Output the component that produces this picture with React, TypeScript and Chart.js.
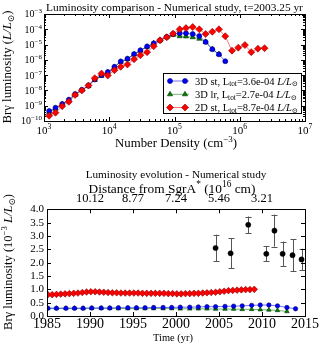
import React, { useEffect, useRef } from 'react';
import { Chart, registerables } from 'chart.js';
Chart.register(...registerables);

const SERIF = '"Liberation Serif", "DejaVu Serif", serif';
Chart.defaults.font.family = SERIF;
Chart.defaults.color = '#000';

const W = 325;
const H = 348;

// ---------------- Top chart data (luminosity vs number density) ----------------
const densities = [
  1.2e3, 1.5e3, 1.9e3, 2.4e3, 3.0e3, 3.8e3, 4.8e3, 6.0e3, 7.6e3, 9.5e3,
  1.2e4, 1.5e4, 1.9e4, 2.4e4, 3.0e4, 3.8e4, 4.8e4, 6.0e4, 7.6e4, 9.5e4,
  1.2e5, 1.5e5, 1.9e5, 2.4e5, 3.0e5, 3.8e5, 4.8e5, 6.0e5, 7.6e5, 9.5e5,
  1.2e6, 1.5e6, 1.9e6, 2.4e6,
];
const lum3dSt = [
  4.5e-10, 7.4e-10, 1.3e-9, 2.5e-9, 5.8e-9, 1.1e-8, 2.1e-8, 5.2e-8, 1.0e-7, 1.6e-7,
  3.5e-7, 7.9e-7, 1.2e-6, 2.4e-6, 4.2e-6, 7.6e-6, 1.2e-5, 1.9e-5, 3.2e-5, 4.9e-5,
  5.5e-5, 5.5e-5, 4.9e-5, 3.6e-5, 1.5e-5, 4.9e-6, 2.3e-6, 8.1e-7,
];
const lum3dLr = [
  3.8e-10, 6.3e-10, 1.2e-9, 2.3e-9, 5.0e-9, 1.05e-8, 1.9e-8, 4.8e-8, 8.9e-8, 1.5e-7,
  3.4e-7, 7.4e-7, 1.1e-6, 2.2e-6, 4.0e-6, 7.2e-6, 1.2e-5, 1.9e-5, 3.0e-5, 4.3e-5,
  3.5e-5, 3.4e-5, 3.0e-5, 2.4e-5, 1.5e-5, 5.1e-6, 2.3e-6,
];
const lum2dSt = [
  2.2e-10, 3.5e-10, 9.3e-10, 1.8e-9, 5.1e-9, 1.0e-8, 2.1e-8, 6.3e-8, 1.26e-7, 9.5e-8,
  2.1e-7, 3.5e-7, 5.0e-7, 1.1e-6, 2.0e-6, 3.2e-6, 7.8e-6, 1.9e-5, 3.0e-5, 5.2e-5,
  1.0e-4, 1.2e-4, 1.4e-4, 1.0e-4, 4.9e-5, 6.9e-5, 1.0e-4, 3.5e-5, 4.0e-6, 6.3e-6,
  9.3e-6, 3.2e-6, 5.4e-6, 5.8e-6,
];
const seriesNames = ['3D st', '3D lr', '2D st'];
const seriesTotals = ['3.6e-04', '2.7e-04', '8.7e-04'];
const densityDecades = [3, 4, 5, 6, 7];
const lumDecades = [-10, -9, -8, -7, -6, -5, -4, -3];

// ---------------- Bottom chart data (luminosity evolution) ----------------
const years2d = [
  1985.1, 1985.6, 1986.1, 1986.6, 1987.1, 1987.6, 1988.1, 1988.6, 1989.1, 1989.6,
  1990.1, 1990.6, 1991.1, 1991.6, 1992.1, 1992.6, 1993.1, 1993.6, 1994.1, 1994.6,
  1995.1, 1995.6, 1996.1, 1996.6, 1997.1, 1997.6, 1998.1, 1998.6, 1999.1, 1999.6,
  2000.1, 2000.6, 2001.1, 2001.6, 2002.1, 2002.6, 2003.1, 2003.6, 2004.1, 2004.6,
  2005.1, 2005.6, 2006.1, 2006.6, 2007.1, 2007.6, 2008.1, 2008.6, 2009.1,
];
const evo2dSt = [
  0.80, 0.80, 0.81, 0.82, 0.83, 0.84, 0.85, 0.86, 0.88, 0.90,
  0.91, 0.91, 0.90, 0.89, 0.88, 0.87, 0.87, 0.86, 0.86, 0.86,
  0.86, 0.86, 0.85, 0.85, 0.85, 0.85, 0.85, 0.85, 0.84, 0.84,
  0.83, 0.83, 0.84, 0.84, 0.85, 0.85, 0.86, 0.87, 0.88, 0.89,
  0.91, 0.93, 0.95, 0.96, 0.97, 0.98, 0.99, 0.99, 1.00,
];
const years3d = [
  1985.1, 1986.1, 1987.2, 1988.2, 1989.2, 1990.2, 1991.3, 1992.3, 1993.3, 1994.4,
  1995.4, 1996.4, 1997.4, 1998.5, 1999.5, 2000.5, 2001.6, 2002.6, 2003.6, 2004.6,
  2005.7, 2006.7, 2007.7, 2008.8, 2009.8, 2010.8, 2011.8, 2012.9, 2013.9,
];
const evo3dSt = [
  0.29, 0.29, 0.29, 0.29, 0.29, 0.30, 0.30, 0.30, 0.31, 0.31,
  0.31, 0.31, 0.32, 0.32, 0.32, 0.33, 0.33, 0.34, 0.35, 0.35,
  0.36, 0.37, 0.38, 0.40, 0.41, 0.41, 0.38, 0.32, 0.27,
];
const evo3dLr = [
  0.29, 0.29, 0.29, 0.29, 0.29, 0.29, 0.29, 0.29, 0.28, 0.28,
  0.28, 0.28, 0.28, 0.28, 0.28, 0.27, 0.27, 0.27, 0.27, 0.26,
  0.26, 0.26, 0.25, 0.25, 0.24, 0.23, 0.21, 0.17,
];
const obsYears = [2004.6, 2006.35, 2008.4, 2010.5, 2011.45, 2012.4, 2013.55, 2014.6];
const obsLum = [2.55, 2.35, 3.42, 2.33, 3.2, 2.33, 2.28, 2.12];
const obsErr = [0.5, 0.56, 0.31, 0.28, 0.6, 0.46, 0.6, 0.4];
const timeTicks = [1985, 1990, 1995, 2000, 2005, 2010, 2015];
const distYears = [1990, 1995, 2000, 2005, 2010];
const distLabels = ['10.12', '8.77', '7.24', '5.46', '3.21'];
const evoTicks = [0, 0.5, 1.0, 1.5, 2.0, 2.5, 3.0, 3.5, 4.0];

// ---------------- styles ----------------
const BLUE = '#0000ff', BLUE_LINE = 'rgba(0,0,255,0.55)', BLUE_EDGE = '#000066';
const GREEN = '#007f00', GREEN_LINE = 'rgba(0,128,0,0.55)', GREEN_EDGE = '#003300';
const RED = '#ff0000', RED_LINE = 'rgba(255,0,0,0.55)', RED_EDGE = '#880000';

// ---------------- rich text helpers ----------------
type Seg = { t: string; it?: boolean; sup?: boolean; sub?: boolean };
function segFont(size: number, s: Seg) {
  const sz = s.sup || s.sub ? size * 0.7 : size;
  return `${s.it ? 'italic ' : ''}${sz}px ${SERIF}`;
}
function richWidth(ctx: CanvasRenderingContext2D, segs: Seg[], size: number) {
  let w = 0;
  for (const s of segs) {
    ctx.font = segFont(size, s);
    w += ctx.measureText(s.t).width;
  }
  return w;
}
function fitSize(ctx: CanvasRenderingContext2D, segs: Seg[], target: number, base = 10) {
  return (base * target) / richWidth(ctx, segs, base);
}
function drawRich(
  ctx: CanvasRenderingContext2D, segs: Seg[], x: number, y: number, size: number,
  align: 'left' | 'center' | 'right' = 'center', rot = 0,
) {
  const w = richWidth(ctx, segs, size);
  ctx.save();
  ctx.translate(x, y);
  ctx.rotate(rot);
  let cx = align === 'center' ? -w / 2 : align === 'right' ? -w : 0;
  ctx.textBaseline = 'alphabetic';
  ctx.textAlign = 'left';
  ctx.fillStyle = '#000';
  const base = size * 0.34;
  for (const s of segs) {
    ctx.font = segFont(size, s);
    const dy = s.sup ? base - size * 0.4 : s.sub ? base + size * 0.18 : base;
    ctx.fillText(s.t, cx, dy);
    cx += ctx.measureText(s.t).width;
  }
  ctx.restore();
}
function seg(ctx: CanvasRenderingContext2D, x1: number, y1: number, x2: number, y2: number) {
  ctx.beginPath();
  ctx.moveTo(x1, y1);
  ctx.lineTo(x2, y2);
  ctx.stroke();
}
function drawFrame(ctx: CanvasRenderingContext2D, a: any) {
  ctx.strokeStyle = '#000';
  ctx.lineWidth = 1;
  const l = Math.round(a.left), t = Math.round(a.top), r = Math.round(a.right), b = Math.round(a.bottom);
  ctx.strokeRect(l + 0.5, t + 0.5, r - l, b - t);
}
function drawMarker(ctx: CanvasRenderingContext2D, style: string, x: number, y: number, r: number, fill: string, edge: string) {
  ctx.beginPath();
  if (style === 'circle') ctx.arc(x, y, r, 0, Math.PI * 2);
  else if (style === 'triangle') {
    ctx.moveTo(x, y - r);
    ctx.lineTo(x + r * 0.866, y + r * 0.5);
    ctx.lineTo(x - r * 0.866, y + r * 0.5);
    ctx.closePath();
  } else {
    ctx.moveTo(x, y - r);
    ctx.lineTo(x + r, y);
    ctx.lineTo(x, y + r);
    ctx.lineTo(x - r, y);
    ctx.closePath();
  }
  ctx.fillStyle = fill;
  ctx.fill();
  ctx.strokeStyle = edge;
  ctx.lineWidth = 0.6;
  ctx.stroke();
}

const pts = (xs: number[], ys: number[]) => ys.map((y, i) => ({ x: xs[i], y }));
const sup = (n: number) => (n < 0 ? '−' + Math.abs(n) : String(n));

// ---------------- top chart ----------------
const legendStyles = [
  { line: BLUE_LINE, fill: BLUE, edge: BLUE_EDGE, style: 'circle', r: 2.5 },
  { line: GREEN_LINE, fill: GREEN, edge: GREEN_EDGE, style: 'triangle', r: 3 },
  { line: RED_LINE, fill: RED, edge: RED_EDGE, style: 'diamond', r: 3.5 },
];

const topDecor = {
  id: 'topDecor',
  afterDraw(chart: any) {
    const ctx: CanvasRenderingContext2D = chart.ctx;
    const a = chart.chartArea;
    const xs = chart.scales.x;
    const ys = chart.scales.y;
    ctx.save();
    drawFrame(ctx, a);
    ctx.lineWidth = 1;
    ctx.strokeStyle = '#000';
    for (const e of densityDecades) {
      for (let k = 1; k <= 9; k++) {
        const v = k * Math.pow(10, e);
        if (v > xs.max * 1.0001) continue;
        const px = Math.round(xs.getPixelForValue(v)) + 0.5;
        const len = k === 1 ? 4 : 2;
        seg(ctx, px, a.bottom, px, a.bottom - len);
        seg(ctx, px, a.top, px, a.top + len);
      }
    }
    for (const e of lumDecades) {
      for (let k = 1; k <= 9; k++) {
        const v = k * Math.pow(10, e);
        if (v > ys.max * 1.0001) continue;
        const py = Math.round(ys.getPixelForValue(v)) + 0.5;
        const len = k === 1 ? 4 : 2;
        seg(ctx, a.left, py, a.left + len, py);
        seg(ctx, a.right, py, a.right - len, py);
      }
    }
    // tick labels
    for (const e of densityDecades) {
      const px = xs.getPixelForValue(Math.pow(10, e));
      drawRich(ctx, [{ t: '10' }, { t: sup(e), sup: true }], px, a.bottom + 9, 11, 'center');
    }
    for (const e of lumDecades) {
      const py = ys.getPixelForValue(Math.pow(10, e));
      drawRich(ctx, [{ t: '10' }, { t: sup(e), sup: true }], a.left - 2, py, 10, 'right');
    }
    // title
    const title: Seg[] = [{ t: 'Luminosity comparison - Numerical study, t=2003.25 yr' }];
    drawRich(ctx, title, (a.left + a.right) / 2, 7, fitSize(ctx, title, 257), 'center');
    // axis titles
    const xt: Seg[] = [{ t: 'Number Density (cm' }, { t: '−3', sup: true }, { t: ')' }];
    drawRich(ctx, xt, 176, 143, fitSize(ctx, xt, 122), 'center');
    const yt: Seg[] = [{ t: 'Brγ luminosity (' }, { t: 'L/L', it: true }, { t: '⊙', sub: true }, { t: ')' }];
    drawRich(ctx, yt, 7, 67, fitSize(ctx, yt, 113), 'center', -Math.PI / 2);
    // legend
    const bx0 = 163, by0 = 73, bx1 = 301, by1 = 113;
    ctx.fillStyle = '#fff';
    ctx.fillRect(bx0, by0, bx1 - bx0, by1 - by0);
    ctx.strokeStyle = '#000';
    ctx.lineWidth = 1;
    ctx.strokeRect(bx0 + 0.5, by0 + 0.5, bx1 - bx0, by1 - by0);
    const entries: Seg[][] = seriesNames.map((n, i) => [
      { t: n + ', L' }, { t: 'tot', sub: true }, { t: '=' + seriesTotals[i] + ' ' },
      { t: 'L/L', it: true }, { t: '⊙', sub: true },
    ]);
    const lsize = fitSize(ctx, entries[0], 103);
    const rows = [81, 94.3, 107.5];
    entries.forEach((segs, i) => {
      const st = legendStyles[i];
      const yy = rows[i];
      ctx.strokeStyle = st.line;
      ctx.lineWidth = 1;
      seg(ctx, 168, yy, 189, yy);
      drawMarker(ctx, st.style, 170, yy, st.r, st.fill, st.edge);
      drawMarker(ctx, st.style, 185, yy, st.r, st.fill, st.edge);
      drawRich(ctx, segs, 195, yy, lsize, 'left');
    });
    ctx.restore();
  },
};

function topConfig(): any {
  return {
    type: 'line',
    data: {
      datasets: [
        {
          label: seriesNames[2], data: pts(densities, lum2dSt), order: 0,
          borderColor: RED_LINE, backgroundColor: RED, pointBackgroundColor: RED, pointBorderColor: RED_EDGE,
          pointStyle: 'rectRot', pointRadius: 3.5, pointBorderWidth: 0.6, borderWidth: 1,
        },
        {
          label: seriesNames[0], data: pts(densities, lum3dSt), order: 1,
          borderColor: BLUE_LINE, backgroundColor: BLUE, pointBackgroundColor: BLUE, pointBorderColor: BLUE_EDGE,
          pointStyle: 'circle', pointRadius: 2.5, pointBorderWidth: 0.6, borderWidth: 1,
        },
        {
          label: seriesNames[1], data: pts(densities, lum3dLr), order: 2,
          borderColor: GREEN_LINE, backgroundColor: GREEN, pointBackgroundColor: GREEN, pointBorderColor: GREEN_EDGE,
          pointStyle: 'triangle', pointRadius: 3, pointBorderWidth: 0.6, borderWidth: 1,
        },
      ],
    },
    options: {
      animation: false,
      responsive: false,
      events: [],
      layout: { padding: { top: 14, right: 20, bottom: 198, left: 0 } },
      elements: { line: { tension: 0 } },
      plugins: { legend: { display: false }, tooltip: { enabled: false }, title: { display: false } },
      scales: {
        x: {
          type: 'logarithmic', position: 'bottom', min: 1e3, max: 1e7,
          ticks: { display: false }, grid: { display: false, drawTicks: false }, border: { display: false },
          afterFit: (s: any) => { s.height = 29; },
        },
        y: {
          type: 'logarithmic', position: 'left', min: 1e-10, max: 1e-3,
          ticks: { display: false }, grid: { display: false, drawTicks: false }, border: { display: false },
          afterFit: (s: any) => { s.width = 44; },
        },
      },
    },
    plugins: [topDecor],
  };
}

// ---------------- bottom chart ----------------
const bottomDecor = {
  id: 'bottomDecor',
  beforeDatasetsDraw(chart: any) {
    const ctx: CanvasRenderingContext2D = chart.ctx;
    const xs = chart.scales.x;
    const ys = chart.scales.y;
    ctx.save();
    ctx.strokeStyle = '#555';
    ctx.lineWidth = 1;
    obsYears.forEach((yr, i) => {
      const px = Math.round(xs.getPixelForValue(yr)) + 0.5;
      const hi = ys.getPixelForValue(obsLum[i] + obsErr[i]);
      const lo = ys.getPixelForValue(obsLum[i] - obsErr[i]);
      seg(ctx, px, hi, px, lo);
      seg(ctx, px - 3, Math.round(hi) + 0.5, px + 3, Math.round(hi) + 0.5);
      seg(ctx, px - 3, Math.round(lo) + 0.5, px + 3, Math.round(lo) + 0.5);
    });
    ctx.restore();
  },
  afterDraw(chart: any) {
    const ctx: CanvasRenderingContext2D = chart.ctx;
    const a = chart.chartArea;
    const xs = chart.scales.x;
    const x2 = chart.scales.x2;
    const ys = chart.scales.y;
    ctx.save();
    drawFrame(ctx, a);
    ctx.strokeStyle = '#000';
    ctx.lineWidth = 1;
    for (const t of timeTicks) {
      const px = Math.round(xs.getPixelForValue(t)) + 0.5;
      seg(ctx, px, a.bottom, px, a.bottom - 4);
    }
    for (const t of distYears) {
      const px = Math.round(x2.getPixelForValue(t)) + 0.5;
      seg(ctx, px, a.top, px, a.top + 4);
    }
    for (const t of evoTicks) {
      const py = Math.round(ys.getPixelForValue(t)) + 0.5;
      seg(ctx, a.left, py, a.left + 4, py);
      seg(ctx, a.right, py, a.right - 4, py);
    }
    const t1: Seg[] = [{ t: 'Luminosity evolution - Numerical study' }];
    drawRich(ctx, t1, 176, 174, fitSize(ctx, t1, 181), 'center');
    const t2: Seg[] = [{ t: 'Distance from SgrA' }, { t: '*', sup: true }, { t: ' (10' }, { t: '16', sup: true }, { t: ' cm)' }];
    drawRich(ctx, t2, 172, 188, fitSize(ctx, t2, 167), 'center');
    const xt: Seg[] = [{ t: 'Time (yr)' }];
    drawRich(ctx, xt, 173, 337, fitSize(ctx, xt, 40), 'center');
    const yt: Seg[] = [
      { t: 'Brγ luminosity (10' }, { t: '−3', sup: true }, { t: ' ' },
      { t: 'L/L', it: true }, { t: '⊙', sub: true }, { t: ')' },
    ];
    drawRich(ctx, yt, 8, 262, fitSize(ctx, yt, 136), 'center', -Math.PI / 2);
    ctx.restore();
  },
};

function bottomConfig(): any {
  return {
    type: 'line',
    data: {
      datasets: [
        {
          label: 'obs', data: pts(obsYears, obsLum), order: 0, showLine: false,
          borderColor: '#000', backgroundColor: '#000', pointBackgroundColor: '#000', pointBorderColor: '#000',
          pointStyle: 'circle', pointRadius: 2.6, pointBorderWidth: 0.5,
        },
        {
          label: seriesNames[2], data: pts(years2d, evo2dSt), order: 1,
          borderColor: RED_LINE, backgroundColor: RED, pointBackgroundColor: RED, pointBorderColor: RED_EDGE,
          pointStyle: 'rectRot', pointRadius: 3.3, pointBorderWidth: 0.6, borderWidth: 1,
        },
        {
          label: seriesNames[0], data: pts(years3d, evo3dSt), order: 2,
          borderColor: BLUE_LINE, backgroundColor: BLUE, pointBackgroundColor: BLUE, pointBorderColor: BLUE_EDGE,
          pointStyle: 'circle', pointRadius: 2.2, pointBorderWidth: 0.6, borderWidth: 1,
        },
        {
          label: seriesNames[1], data: pts(years3d, evo3dLr), order: 3,
          borderColor: GREEN_LINE, backgroundColor: GREEN, pointBackgroundColor: GREEN, pointBorderColor: GREEN_EDGE,
          pointStyle: 'triangle', pointRadius: 2.6, pointBorderWidth: 0.6, borderWidth: 1,
        },
      ],
    },
    options: {
      animation: false,
      responsive: false,
      events: [],
      layout: { padding: { top: 0, right: 20, bottom: 0, left: 0 } },
      elements: { line: { tension: 0 } },
      plugins: { legend: { display: false }, tooltip: { enabled: false }, title: { display: false } },
      scales: {
        x: {
          type: 'linear', position: 'bottom', min: 1985, max: 2015,
          afterBuildTicks: (s: any) => { s.ticks = timeTicks.map((v) => ({ value: v })); },
          ticks: { font: { size: 14, family: SERIF }, color: '#000', padding: 0, autoSkip: false, maxRotation: 0, callback: (v: any) => String(v) },
          grid: { display: false, drawTicks: false }, border: { display: false },
          afterFit: (s: any) => { s.height = 32; },
        },
        x2: {
          type: 'linear', position: 'top', min: 1985, max: 2015,
          afterBuildTicks: (s: any) => { s.ticks = distYears.map((v) => ({ value: v })); },
          ticks: {
            font: { size: 12.5, family: SERIF }, color: '#000', padding: 3, autoSkip: false, maxRotation: 0,
            callback: (v: any) => { const i = distYears.indexOf(Number(v)); return i >= 0 ? distLabels[i] : ''; },
          },
          grid: { display: false, drawTicks: false }, border: { display: false },
          afterFit: (s: any) => { s.height = 209.3; },
        },
        y: {
          type: 'linear', position: 'left', min: 0, max: 4,
          afterBuildTicks: (s: any) => { s.ticks = evoTicks.map((v) => ({ value: v })); },
          ticks: { font: { size: 11, family: SERIF }, color: '#000', padding: 3, autoSkip: false, callback: (v: any) => Number(v).toFixed(1) },
          grid: { display: false, drawTicks: false }, border: { display: false },
          afterFit: (s: any) => { s.width = 47; },
        },
      },
    },
    plugins: [bottomDecor],
  };
}

export default function App() {
  const topRef = useRef<HTMLCanvasElement>(null);
  const botRef = useRef<HTMLCanvasElement>(null);
  useEffect(() => {
    const c2 = new Chart(botRef.current as HTMLCanvasElement, bottomConfig());
    const c1 = new Chart(topRef.current as HTMLCanvasElement, topConfig());
    return () => {
      c1.destroy();
      c2.destroy();
    };
  }, []);
  const cs: React.CSSProperties = { position: 'absolute', left: 0, top: 0, width: W, height: H };
  return (
    <div style={{ position: 'absolute', left: 0, top: 0, width: W, height: H, background: '#fff', overflow: 'hidden' }}>
      <canvas ref={botRef} width={W} height={H} style={cs} />
      <canvas ref={topRef} width={W} height={H} style={cs} />
    </div>
  );
}
